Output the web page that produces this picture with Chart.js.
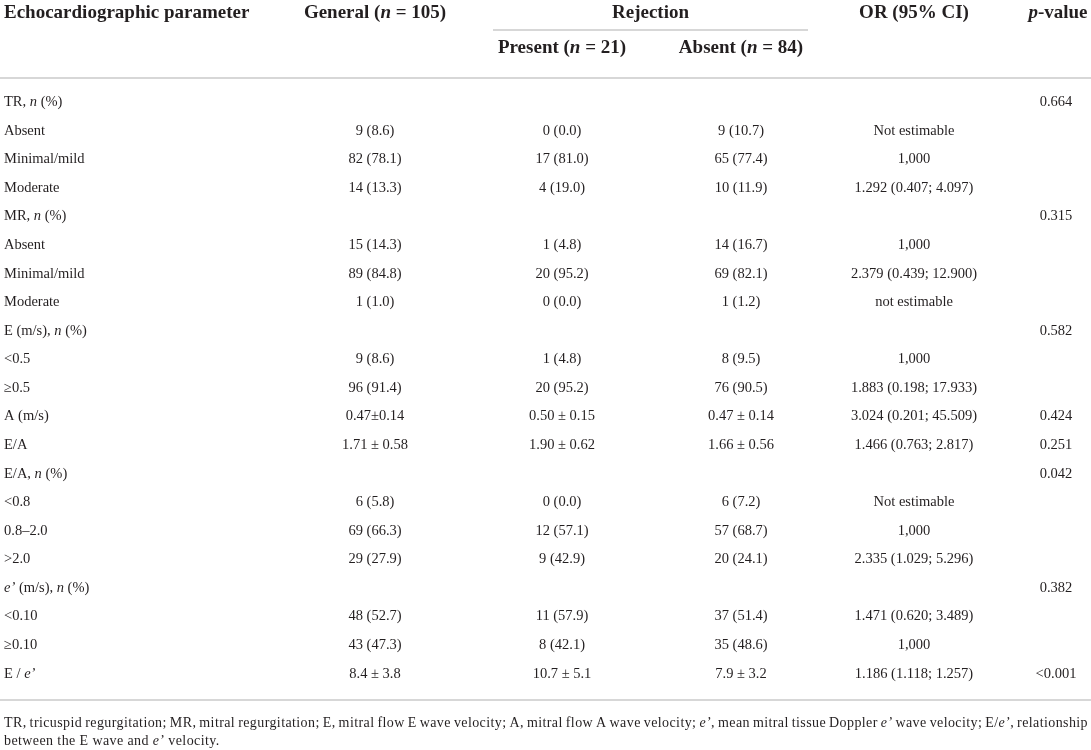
<!DOCTYPE html>
<html>
<head>
<meta charset="utf-8">
<title>Echocardiographic parameters and rejection</title>
<script src="https://cdn.jsdelivr.net/npm/chart.js@4.4.1/dist/chart.umd.min.js"></script>
<style>
  html, body { margin: 0; padding: 0; background: #fff; }
  #wrap { width: 1091px; height: 750px; }
</style>
</head>
<body>
<div id="wrap"><canvas id="tbl" width="1091" height="750"></canvas></div>
<script>
// text between *...* is set in italic
const rowLabels = [
  'TR, *n* (%)', 'Absent', 'Minimal/mild', 'Moderate',
  'MR, *n* (%)', 'Absent', 'Minimal/mild', 'Moderate',
  'E (m/s), *n* (%)', '<0.5', '≥0.5',
  'A (m/s)', 'E/A',
  'E/A, *n* (%)', '<0.8', '0.8–2.0', '>2.0',
  '*e’* (m/s), *n* (%)', '<0.10', '≥0.10',
  'E / *e’*'
];
const general = ['', '9 (8.6)', '82 (78.1)', '14 (13.3)', '', '15 (14.3)', '89 (84.8)', '1 (1.0)',
  '', '9 (8.6)', '96 (91.4)', '0.47±0.14', '1.71 ± 0.58', '', '6 (5.8)', '69 (66.3)', '29 (27.9)',
  '', '48 (52.7)', '43 (47.3)', '8.4 ± 3.8'];
const present = ['', '0 (0.0)', '17 (81.0)', '4 (19.0)', '', '1 (4.8)', '20 (95.2)', '0 (0.0)',
  '', '1 (4.8)', '20 (95.2)', '0.50 ± 0.15', '1.90 ± 0.62', '', '0 (0.0)', '12 (57.1)', '9 (42.9)',
  '', '11 (57.9)', '8 (42.1)', '10.7 ± 5.1'];
const absent = ['', '9 (10.7)', '65 (77.4)', '10 (11.9)', '', '14 (16.7)', '69 (82.1)', '1 (1.2)',
  '', '8 (9.5)', '76 (90.5)', '0.47 ± 0.14', '1.66 ± 0.56', '', '6 (7.2)', '57 (68.7)', '20 (24.1)',
  '', '37 (51.4)', '35 (48.6)', '7.9 ± 3.2'];
const orCI = ['', 'Not estimable', '1,000', '1.292 (0.407; 4.097)', '', '1,000', '2.379 (0.439; 12.900)', 'not estimable',
  '', '1,000', '1.883 (0.198; 17.933)', '3.024 (0.201; 45.509)', '1.466 (0.763; 2.817)', '', 'Not estimable', '1,000', '2.335 (1.029; 5.296)',
  '', '1.471 (0.620; 3.489)', '1,000', '1.186 (1.118; 1.257)'];
const pValue = ['0.664', '', '', '', '0.315', '', '', '', '0.582', '', '', '0.424', '0.251', '0.042', '', '', '',
  '0.382', '', '', '<0.001'];

const stubHeader = 'Echocardiographic parameter';
const colHeaders = ['General (*n* = 105)', 'Present (*n* = 21)', 'Absent (*n* = 84)', 'OR (95% CI)', '*p*-value'];
const groupHeader = 'Rejection';
const footnote = [
  'TR, tricuspid regurgitation; MR, mitral regurgitation; E, mitral flow E wave velocity; A, mitral flow A wave velocity; *e’*, mean mitral tissue Doppler *e’* wave velocity; E/*e’*, relationship',
  'between the E wave and *e’* velocity.'
];

const columns = [general, present, absent, orCI, pValue];

// layout (pixels)
const LAYOUT = {
  stubX: 4, colX: [375, 562, 741, 914, 1056],
  head1Y: 13, head2Y: 48, groupLine: { y: 30, x0: 493, x1: 808 },
  headRuleY: 78, footRuleY: 700, footY: [723, 741], footX0: 4, footX1: 1088,
  headSize: 19, bodySize: 14.5, footSize: 14, footTracking: '0.4px',
  ink: '#231f20', rule: '#cacaca'
};

function segs(str) {
  return str.split('*').map((t, i) => ({ t, it: i % 2 === 1 })).filter(s => s.t);
}
function fontOf(size, bold, it) {
  return `${it ? 'italic ' : ''}${bold ? 'bold ' : ''}${size}px "Liberation Serif", "DejaVu Serif", serif`;
}
function measureRich(ctx, str, size, bold) {
  const ss = segs(str);
  let w = 0;
  ss.forEach(s => { ctx.font = fontOf(size, bold, s.it); s.w = ctx.measureText(s.t).width; w += s.w; });
  return { ss, w };
}
function drawRich(ctx, str, x, y, align, size, bold) {
  const { ss, w } = measureRich(ctx, str, size, bold);
  let cx = align === 'center' ? x - w / 2 : align === 'right' ? x - w : x;
  ctx.textAlign = 'left';
  ss.forEach(s => { ctx.font = fontOf(size, bold, s.it); ctx.fillText(s.t, cx, y); cx += s.w; });
}
function drawJustified(ctx, str, x0, x1, y, size) {
  const words = str.split(' ');
  const ws = words.map(wd => measureRich(ctx, wd, size, false).w);
  const total = ws.reduce((a, b) => a + b, 0);
  const gap = Math.max(2, (x1 - x0 - total) / (words.length - 1));
  let cx = x0;
  words.forEach((wd, i) => { drawRich(ctx, wd, cx, y, 'left', size, false); cx += ws[i] + gap; });
}
function hline(ctx, x0, x1, y) {
  ctx.beginPath();
  ctx.moveTo(x0, y);
  ctx.lineTo(x1, y);
  ctx.stroke();
}

const tablePlugin = {
  id: 'tablePlugin',
  afterDraw(chart) {
    const ctx = chart.ctx;
    const xs = chart.scales.x, ys = chart.scales.y;
    const L = LAYOUT;
    ctx.save();
    ctx.fillStyle = L.ink;
    ctx.textBaseline = 'middle';

    // header
    drawRich(ctx, stubHeader, L.stubX, L.head1Y, 'left', L.headSize, true);
    drawRich(ctx, colHeaders[0], xs.getPixelForValue(L.colX[0]), L.head1Y, 'center', L.headSize, true);
    drawRich(ctx, groupHeader, xs.getPixelForValue((L.groupLine.x0 + L.groupLine.x1) / 2), L.head1Y, 'center', L.headSize, true);
    drawRich(ctx, colHeaders[1], xs.getPixelForValue(L.colX[1]), L.head2Y, 'center', L.headSize, true);
    drawRich(ctx, colHeaders[2], xs.getPixelForValue(L.colX[2]), L.head2Y, 'center', L.headSize, true);
    drawRich(ctx, colHeaders[3], xs.getPixelForValue(L.colX[3]), L.head1Y, 'center', L.headSize, true);
    drawRich(ctx, colHeaders[4], xs.getPixelForValue(L.colX[4] + 2), L.head1Y, 'center', L.headSize, true);

    // body
    rowLabels.forEach((lab, i) => {
      const y = ys.getPixelForValue(i);
      drawRich(ctx, lab, L.stubX, y, 'left', L.bodySize, false);
      columns.forEach((col, c) => {
        if (col[i]) drawRich(ctx, col[i], xs.getPixelForValue(L.colX[c]), y, 'center', L.bodySize, false);
      });
    });

    // rules
    ctx.strokeStyle = L.rule;
    ctx.lineWidth = 1.5;
    hline(ctx, xs.getPixelForValue(L.groupLine.x0), xs.getPixelForValue(L.groupLine.x1), L.groupLine.y);
    hline(ctx, 0, chart.width, L.headRuleY);
    hline(ctx, 0, chart.width, L.footRuleY);

    // footnote
    ctx.letterSpacing = L.footTracking;
    drawJustified(ctx, footnote[0], L.footX0, L.footX1, L.footY[0], L.footSize);
    drawRich(ctx, footnote[1], L.footX0, L.footY[1], 'left', L.footSize, false);
    ctx.letterSpacing = '0px';
    ctx.restore();
  }
};

new Chart(document.getElementById('tbl'), {
  type: 'scatter',
  data: { datasets: [] },
  options: {
    responsive: false,
    animation: false,
    devicePixelRatio: 1,
    layout: { padding: { top: 88, bottom: 62, left: 0, right: 0 } },
    plugins: { legend: { display: false }, tooltip: { enabled: false } },
    scales: {
      x: { type: 'linear', min: 0, max: 1091, display: false },
      y: { type: 'category', labels: rowLabels, offset: true, display: false }
    }
  },
  plugins: [tablePlugin]
});
</script>
</body>
</html>
